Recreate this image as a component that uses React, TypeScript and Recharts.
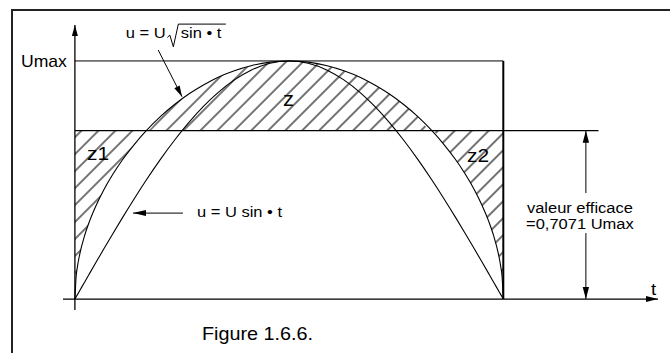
import React from 'react';
import {
  ComposedChart,
  Area,
  Line,
  XAxis,
  YAxis,
  ReferenceLine,
  ReferenceDot,
} from 'recharts';

// Phase angle ωt, in degrees, over one positive half-wave
const angles = [
  0, 0.5, 1, 2, 4, 6, 9, 12, 16, 20, 25, 30, 36, 42, 48, 54, 60, 67, 74, 82,
  90,
  98, 106, 113, 120, 126, 132, 138, 144, 150, 155, 160, 164, 168, 171, 174, 176, 178, 179, 179.5, 180,
];

// u / Umax for u = U sin ωt
const sineValues = [
  0, 0.0087, 0.0175, 0.0349, 0.0698, 0.1045, 0.1564, 0.2079, 0.2756, 0.342, 0.4226, 0.5, 0.5878, 0.6691,
  0.7431, 0.809, 0.866, 0.9205, 0.9613, 0.9903,
  1,
  0.9903, 0.9613, 0.9205, 0.866, 0.809, 0.7431, 0.6691, 0.5878, 0.5, 0.4226, 0.342, 0.2756, 0.2079,
  0.1564, 0.1045, 0.0698, 0.0349, 0.0175, 0.0087, 0,
];

// u / Umax for u = U √(sin ωt)
const rootSineValues = [
  0, 0.093, 0.132, 0.187, 0.264, 0.323, 0.395, 0.456, 0.525, 0.585, 0.65, 0.707, 0.767, 0.818, 0.862,
  0.899, 0.931, 0.959, 0.98, 0.995,
  1,
  0.995, 0.98, 0.959, 0.931, 0.899, 0.862, 0.818, 0.767, 0.707, 0.65, 0.585, 0.525, 0.456, 0.395, 0.323,
  0.264, 0.187, 0.132, 0.093, 0,
];

const UMAX = 1;
const RMS = 0.7071; // valeur efficace

// Axis extents (ωt in degrees, u / Umax)
const T_MIN = -5;
const T_MAX = 245;
const U_MIN = -0.046;
const U_MAX = 1.151;
const T_END = 180;
const T_RMS_END = 220;
const T_DIM = 214.7; // dimension arrow for the rms value

const rows = angles.map((t, i) => ({
  t,
  sine: sineValues[i],
  root: rootSineValues[i],
  band: [Math.min(rootSineValues[i], RMS), Math.max(rootSineValues[i], RMS)],
}));

const FONT = '"Liberation Sans", Arial, Helvetica, sans-serif';
const STRETCH = 1.1;

type ArrowOpts = { start?: boolean; end?: boolean; width?: number; len?: number; half?: number };

const arrowShape = (opts: ArrowOpts) => (p: any) => {
  const x1 = Number(p.x1);
  const y1 = Number(p.y1);
  const x2 = Number(p.x2);
  const y2 = Number(p.y2);
  const w = opts.width ?? 1;
  const len = opts.len ?? 11;
  const half = opts.half ?? 3.2;
  const head = (tx: number, ty: number, fx: number, fy: number) => {
    const dx = tx - fx;
    const dy = ty - fy;
    const d = Math.hypot(dx, dy) || 1;
    const ux = dx / d;
    const uy = dy / d;
    const bx = tx - ux * len;
    const by = ty - uy * len;
    return `${tx},${ty} ${bx - uy * half},${by + ux * half} ${bx + uy * half},${by - ux * half}`;
  };
  return (
    <g>
      <line x1={x1} y1={y1} x2={x2} y2={y2} stroke="#000" strokeWidth={w} />
      {opts.end && <polygon points={head(x2, y2, x1, y1)} fill="#000" />}
      {opts.start && <polygon points={head(x1, y1, x2, y2)} fill="#000" />}
    </g>
  );
};

type TextLine = { text: string; dx?: number; dy?: number; size: number; anchor?: 'start' | 'middle' | 'end' };

const textShape = (lines: TextLine[], extra?: (cx: number, cy: number) => React.ReactNode) => (p: any) => {
  const cx = Number(p.cx);
  const cy = Number(p.cy);
  return (
    <g>
      {lines.map((l, i) => (
        <text
          key={i}
          transform={`translate(${cx + (l.dx ?? 0)},${cy + (l.dy ?? 0)}) scale(${STRETCH},1)`}
          fontSize={l.size}
          fontFamily={FONT}
          textAnchor={l.anchor ?? 'start'}
          fill="#000"
        >
          {l.text}
        </text>
      ))}
      {extra && extra(cx, cy)}
    </g>
  );
};

// radical sign drawn over "sin • t"
const radical = (cx: number, cy: number) => (
  <path
    d={`M${cx + 41.5},${cy - 0.7} L${cx + 44},${cy - 3} L${cx + 47.5},${cy + 8.7} L${cx + 52.5},${cy - 14} L${cx + 100},${cy - 14}`}
    fill="none"
    stroke="#000"
    strokeWidth={1}
  />
);

export default function App() {
  return (
    <div
      style={{
        position: 'absolute',
        left: 0,
        top: 0,
        width: 670,
        height: 353,
        overflow: 'hidden',
        background: '#fff',
      }}
    >
      <div
        style={{
          position: 'absolute',
          left: 11,
          top: 9,
          width: 700,
          height: 400,
          borderLeft: '2px solid #222',
          borderTop: '2px solid #222',
        }}
      />
      <svg width={0} height={0} style={{ position: 'absolute' }}>
        <defs>
          <pattern id="hatch" patternUnits="userSpaceOnUse" width={12} height={12} patternTransform="rotate(45)">
            <line x1={6} y1={0} x2={6} y2={12} stroke="#000" strokeWidth={1.1} />
          </pattern>
        </defs>
      </svg>
      <div style={{ position: 'absolute', left: 0, top: 0 }}>
        <ComposedChart width={670} height={353} data={rows} margin={{ top: 25, right: 12, bottom: 43, left: 63 }}>
          <XAxis type="number" dataKey="t" domain={[T_MIN, T_MAX]} allowDataOverflow hide />
          <YAxis type="number" domain={[U_MIN, U_MAX]} allowDataOverflow hide />

          <Area
            dataKey="band"
            type="monotone"
            stroke="none"
            fill="url(#hatch)"
            fillOpacity={1}
            isAnimationActive={false}
            activeDot={false}
          />
          <Line dataKey="sine" type="monotone" stroke="#000" strokeWidth={1.1} dot={false} activeDot={false} isAnimationActive={false} />
          <Line dataKey="root" type="monotone" stroke="#000" strokeWidth={1.1} dot={false} activeDot={false} isAnimationActive={false} />

          {/* Umax level, rms level and the end of the half-wave */}
          <ReferenceLine segment={[{ x: 0, y: UMAX }, { x: T_END, y: UMAX }]} stroke="#000" strokeWidth={1} ifOverflow="visible" />
          <ReferenceLine segment={[{ x: 0, y: RMS }, { x: T_RMS_END, y: RMS }]} stroke="#000" strokeWidth={1.3} ifOverflow="visible" />
          <ReferenceLine segment={[{ x: T_END, y: 0 }, { x: T_END, y: UMAX }]} stroke="#000" strokeWidth={2} ifOverflow="visible" />

          {/* axes with arrow heads */}
          <ReferenceLine segment={[{ x: 0, y: U_MIN }, { x: 0, y: U_MAX }]} ifOverflow="visible" shape={arrowShape({ end: true, width: 1.3, len: 11, half: 3 })} />
          <ReferenceLine segment={[{ x: T_MIN, y: 0 }, { x: T_MAX, y: 0 }]} ifOverflow="visible" shape={arrowShape({ end: true, width: 1.3, len: 12, half: 3 })} />

          {/* rms dimension arrow */}
          <ReferenceLine segment={[{ x: T_DIM, y: 0.445 }, { x: T_DIM, y: RMS }]} ifOverflow="visible" shape={arrowShape({ end: true, width: 1, len: 12, half: 3.2 })} />
          <ReferenceLine segment={[{ x: T_DIM, y: 0.277 }, { x: T_DIM, y: 0 }]} ifOverflow="visible" shape={arrowShape({ end: true, width: 1, len: 12, half: 3.2 })} />

          {/* leader arrows for the curve labels */}
          <ReferenceLine segment={[{ x: 35, y: 1.046 }, { x: 45, y: 0.85 }]} ifOverflow="visible" shape={arrowShape({ end: true, width: 1, len: 11, half: 3 })} />
          <ReferenceLine segment={[{ x: 45.4, y: 0.361 }, { x: 24.4, y: 0.361 }]} ifOverflow="visible" shape={arrowShape({ end: true, width: 1, len: 13, half: 3 })} />

          {/* texts */}
          <ReferenceDot x={0} y={UMAX} r={0} ifOverflow="visible" shape={textShape([{ text: 'Umax', dx: -8, dy: 6, size: 16, anchor: 'end' }])} />
          <ReferenceDot
            x={21.4}
            y={1.096}
            r={0}
            ifOverflow="visible"
            shape={textShape(
              [
                { text: 'u = U', size: 15 },
                { text: 'sin • t', dx: 55, size: 15 },
              ],
              radical,
            )}
          />
          <ReferenceDot x={51.3} y={0.344} r={0} ifOverflow="visible" shape={textShape([{ text: 'u = U sin • t', size: 15 }])} />
          <ReferenceDot x={87.4} y={0.811} r={0} ifOverflow="visible" shape={textShape([{ text: 'z', size: 20 }])} />
          <ReferenceDot x={5.1} y={0.584} r={0} ifOverflow="visible" shape={textShape([{ text: 'z1', size: 19 }])} />
          <ReferenceDot x={164.8} y={0.576} r={0} ifOverflow="visible" shape={textShape([{ text: 'z2', size: 19 }])} />
          <ReferenceDot
            x={T_DIM}
            y={0.361}
            r={0}
            ifOverflow="visible"
            shape={textShape([
              { text: 'valeur efficace', dx: -6, size: 15, anchor: 'middle' },
              { text: '=0,7071 Umax', dx: -6, dy: 16, size: 15, anchor: 'middle' },
            ])}
          />
          <ReferenceDot x={T_MAX} y={0} r={0} ifOverflow="visible" shape={textShape([{ text: 't', dx: -7, dy: -4, size: 17 }])} />
          <ReferenceDot x={53.4} y={-0.172} r={0} ifOverflow="visible" shape={textShape([{ text: 'Figure 1.6.6.', size: 18 }])} />
        </ComposedChart>
      </div>
    </div>
  );
}
